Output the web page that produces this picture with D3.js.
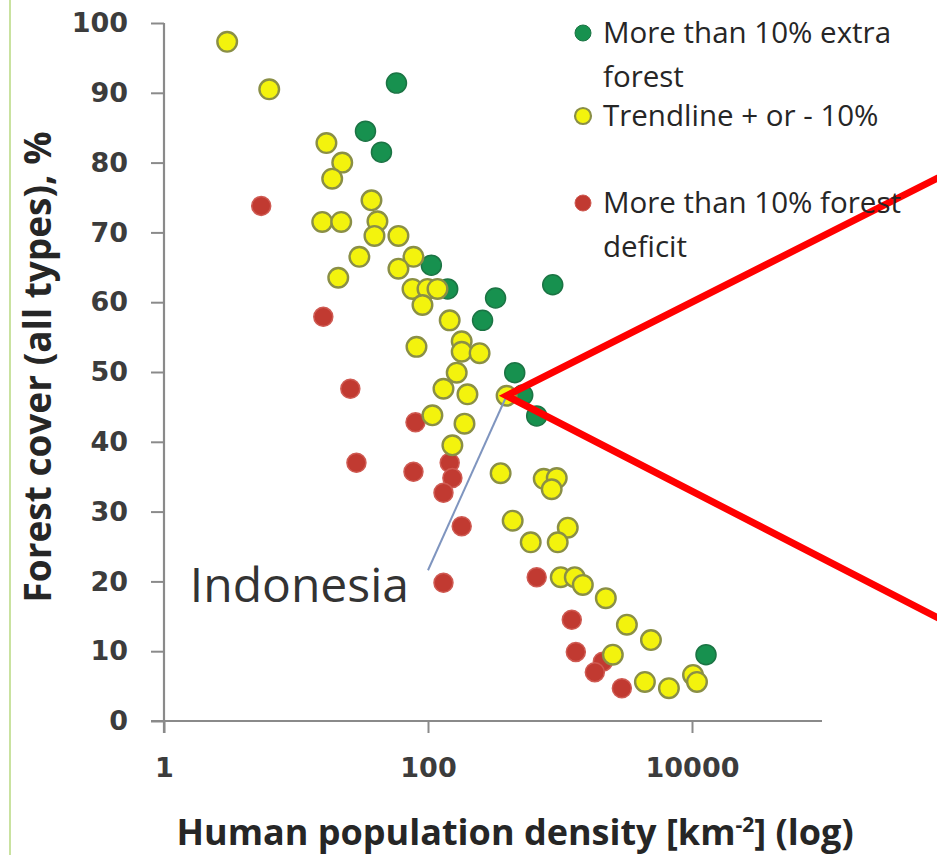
<!DOCTYPE html>
<html>
<head>
<meta charset="utf-8">
<script src="https://cdn.jsdelivr.net/npm/d3@7"></script>
<style>
  html, body { margin: 0; padding: 0; background: #ffffff; }
  svg { display: block; }
</style>
</head>
<body>
<div id="chart"></div>
<script>
// ---------- data (population density km^-2, forest cover %) ----------
const extraForest = [
  [57.7, 91.4], [33.6, 84.5], [44.4, 81.5], [106, 65.3], [141, 61.9],
  [325, 60.6], [259, 57.4], [881, 62.5], [454, 49.9], [522, 46.7],
  [666, 43.7], [12770, 9.5]
];
const trendline = [
  [3.01, 97.3], [6.27, 90.5], [17.0, 82.8], [22.4, 80.0], [18.8, 77.7],
  [37.3, 74.6], [15.8, 71.5], [22.0, 71.5], [41.4, 71.6], [39.3, 69.5],
  [59.7, 69.5], [30.2, 66.5], [77.6, 66.5], [59.7, 64.8], [20.9, 63.5],
  [76.3, 61.9], [99.1, 61.9], [118, 61.9], [90.8, 59.6], [146, 57.4],
  [81.8, 53.6], [180, 54.4], [180, 52.9], [246, 52.7], [165, 49.9],
  [131, 47.6], [199, 46.8], [394, 46.6], [108, 43.8], [189, 42.6],
  [153, 39.5], [355, 35.5], [753, 34.7], [945, 34.8], [865, 33.2],
  [438, 28.7], [1145, 27.7], [600, 25.6], [961, 25.6], [1013, 20.6],
  [1294, 20.6], [1489, 19.5], [2224, 17.6], [3212, 13.8], [4886, 11.6],
  [2513, 9.5], [4398, 5.6], [6686, 4.7], [10180, 6.6], [10910, 5.6]
];
const forestDeficit = [
  [5.45, 73.8], [16.1, 57.9], [25.8, 47.6], [80.4, 42.8], [28.7, 37.0],
  [77.6, 35.7], [146, 37.0], [153, 34.8], [131, 32.7], [180, 27.9],
  [131, 19.8], [666, 20.6], [1228, 14.5], [1318, 9.9], [2111, 8.5],
  [1836, 7.0], [2942, 4.7]
];
const indonesiaPoint = [394, 46.6];
const indonesiaLeaderEnd = [100, 21.6];
const indonesiaLabelAt = [1.57, 17.0];

const xTickValues = [1, 100, 10000];
const yTickValues = [0, 10, 20, 30, 40, 50, 60, 70, 80, 90, 100];
const legendLabels = [
  ["More than 10% extra", "forest"],
  ["Trendline + or - 10%"],
  ["More than 10% forest", "deficit"]
];
const xTitle = "Human population density [km";
const yTitle = "Forest cover (all types), %";

// ---------- styles ----------
const W = 937, H = 855;
const COL = {
  green: "#17914f", greenStroke: "#1b7444",
  yellow: "#f3f30d", yellowStroke: "#8a8f46",
  red: "#c13a31", redStroke: "#cf5a52",
  axis: "#8a8a8a", tick: "#3c3c3c", text: "#262626"
};

const svg = d3.select("#chart").append("svg")
  .attr("width", W).attr("height", H);

svg.append("rect").attr("width", W).attr("height", H).attr("fill", "#fff");

// left page border
svg.append("line").attr("x1", 10).attr("x2", 10).attr("y1", 0).attr("y2", H)
  .attr("stroke", "#c9e2a0").attr("stroke-width", 2);

const x = d3.scaleLog().domain([1, 100000]).range([164, 824]);
const y = d3.scaleLinear().domain([0, 100]).range([721, 23]);

// ---------- axes ----------
const yAxis = svg.append("g").attr("transform", `translate(${x(1)},0)`)
  .call(d3.axisLeft(y).tickValues(yTickValues).tickSize(13).tickPadding(23)
        .tickFormat(d3.format("d")));
const xAxis = svg.append("g").attr("transform", `translate(0,${y(0)})`)
  .call(d3.axisBottom(x).tickValues(xTickValues).tickSize(12).tickPadding(25)
        .tickFormat(d3.format("d")));
[yAxis, xAxis].forEach(g => {
  g.select(".domain").remove();
  g.selectAll(".tick line").attr("stroke", COL.axis).attr("stroke-width", 2);
  g.selectAll(".tick text")
    .attr("fill", COL.tick)
    .style("font-family", "'DejaVu Sans', sans-serif")
    .style("font-weight", "bold")
    .style("font-size", "27px");
});
// axis lines
svg.append("line").attr("x1", x(1)).attr("x2", x(1))
  .attr("y1", y(100)).attr("y2", y(0) + 12)
  .attr("stroke", COL.axis).attr("stroke-width", 2.2);
svg.append("line").attr("x1", x(1) - 13).attr("x2", x(100000) - 2)
  .attr("y1", y(0)).attr("y2", y(0))
  .attr("stroke", COL.axis).attr("stroke-width", 2.2);

// axis titles
svg.append("text")
  .attr("transform", `translate(51,367) rotate(-90)`)
  .attr("text-anchor", "middle")
  .attr("fill", COL.text)
  .style("font-family", "'Open Sans', sans-serif")
  .style("font-weight", "bold")
  .style("font-size", "37px")
  .text(yTitle);

const xt = svg.append("text")
  .attr("x", 515).attr("y", 845)
  .attr("text-anchor", "middle")
  .attr("fill", COL.text)
  .style("font-family", "'Open Sans', sans-serif")
  .style("font-weight", "bold")
  .style("font-size", "36px");
xt.append("tspan").text(xTitle);
xt.append("tspan").attr("dy", -13).style("font-size", "21px").text("-2");
xt.append("tspan").attr("dy", 13).text("] (log)");

// ---------- points ----------
function dots(data, fill, stroke, r, sw) {
  svg.append("g").selectAll("circle").data(data).join("circle")
    .attr("cx", d => x(d[0])).attr("cy", d => y(d[1]))
    .attr("r", r).attr("fill", fill)
    .attr("stroke", stroke).attr("stroke-width", sw);
}
dots(extraForest, COL.green, COL.greenStroke, 10, 1.5);
dots(forestDeficit, COL.red, COL.redStroke, 9.5, 1.5);
dots(trendline, COL.yellow, COL.yellowStroke, 9.8, 2.4);

// ---------- Indonesia annotation ----------
svg.append("line")
  .attr("x1", x(indonesiaLeaderEnd[0])).attr("y1", y(indonesiaLeaderEnd[1]))
  .attr("x2", x(indonesiaPoint[0])).attr("y2", y(indonesiaPoint[1]))
  .attr("stroke", "#7f95bf").attr("stroke-width", 2);
svg.append("text")
  .attr("x", x(indonesiaLabelAt[0])).attr("y", y(indonesiaLabelAt[1]))
  .attr("fill", "#333")
  .style("font-family", "'Open Sans', sans-serif")
  .style("font-size", "48px")
  .text("Indonesia");

// red pointer lines
const vx = x(indonesiaPoint[0]), vy = y(indonesiaPoint[1]);
const ex = 960;
svg.append("path")
  .attr("d", `M${ex},${vy - 0.505 * (ex - vx)} L${vx},${vy} L${ex},${vy + 0.515 * (ex - vx)}`)
  .attr("fill", "none").attr("stroke", "#ff0000").attr("stroke-width", 7)
  .attr("stroke-linejoin", "miter").attr("stroke-miterlimit", 10);

// ---------- legend ----------
const legendColors = [
  [COL.green, COL.greenStroke],
  [COL.yellow, COL.yellowStroke],
  [COL.red, COL.redStroke]
];
const legendRowY = [43, 126, 213];
const lg = svg.append("g");
legendLabels.forEach((lines, i) => {
  lg.append("circle").attr("cx", 583).attr("cy", legendRowY[i] - 10)
    .attr("r", 8).attr("fill", legendColors[i][0])
    .attr("stroke", legendColors[i][1]).attr("stroke-width", i === 1 ? 2.2 : 1);
  lines.forEach((t, j) => {
    lg.append("text").attr("x", 603).attr("y", legendRowY[i] + j * 44)
      .attr("fill", COL.text)
      .style("font-family", "'Open Sans', sans-serif")
      .style("font-size", "29.5px")
      .text(t);
  });
});
</script>
</body>
</html>
